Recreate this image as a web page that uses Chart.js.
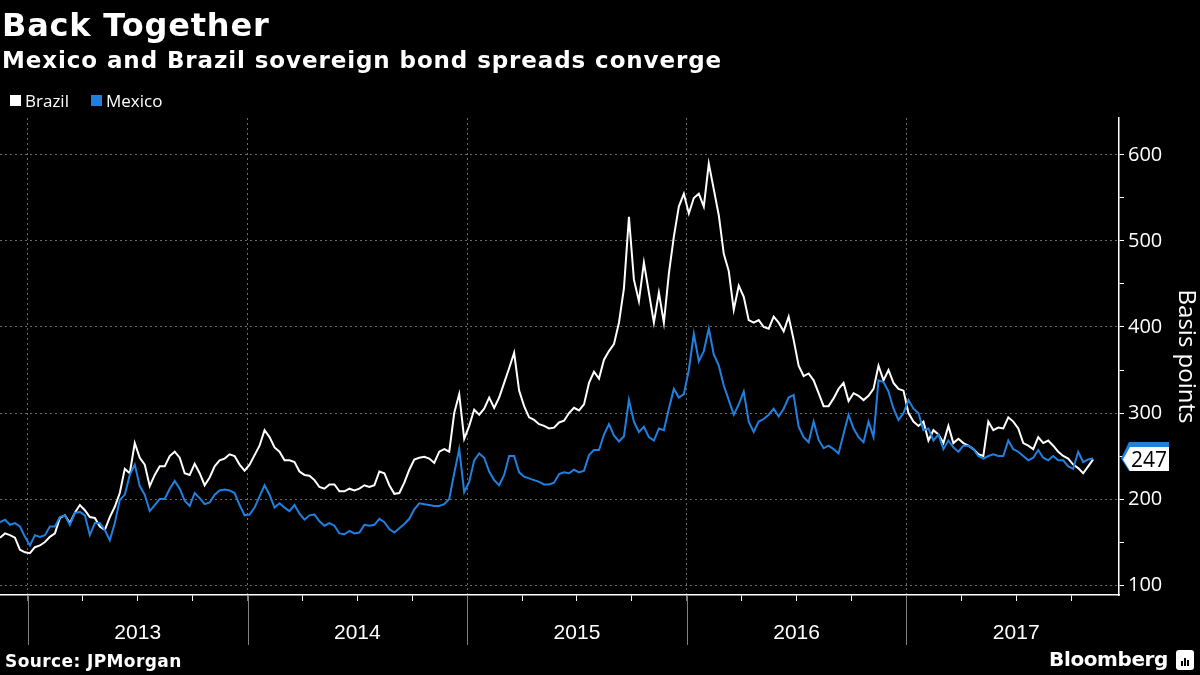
<!DOCTYPE html>
<html>
<head>
<meta charset="utf-8">
<script src="https://cdn.jsdelivr.net/npm/chart.js@4.4.1/dist/chart.umd.min.js"></script>
<style>
  html, body { margin: 0; padding: 0; background: #000; }
  #wrap { position: relative; width: 1200px; height: 675px; overflow: hidden; background: #000; }
  #chart { position: absolute; left: 0; top: 0; }
  .txt { position: absolute; color: #fff; white-space: nowrap; font-family: "DejaVu Sans", sans-serif; font-weight: bold; }
  #title { left: 2px; top: 9px; font-size: 32px; line-height: 32px; letter-spacing: 0.8px; }
  #subtitle { left: 2px; top: 49px; font-size: 23px; line-height: 23px; letter-spacing: 0.9px; }
  #source { left: 5px; top: 653px; font-size: 17px; line-height: 17px; letter-spacing: 0.4px; }
  #brand { right: 32px; top: 648px; font-size: 20px; line-height: 22px; letter-spacing: -0.4px; }
  #icon { position: absolute; left: 1176px; top: 650px; width: 18px; height: 20px; background: #fff; border-radius: 3px; }
  #icon span { position: absolute; bottom: 4px; width: 2px; background: #000; }
  .legend { position: absolute; top: 92px; color: #fff; font-family: "Open Sans", sans-serif; font-size: 17px; line-height: 17px; }
  .sw { position: absolute; width: 11px; height: 11px; top: 3px; }
</style>
</head>
<body>
<div id="wrap">
  <canvas id="chart" width="1200" height="675"></canvas>
  <div id="title" class="txt">Back Together</div>
  <div id="subtitle" class="txt">Mexico and Brazil sovereign bond spreads converge</div>
  <div class="legend" style="left:10px"><span class="sw" style="left:0;background:#fff"></span><span style="margin-left:15px">Brazil</span></div>
  <div class="legend" style="left:91px"><span class="sw" style="left:0;background:#1f80e0"></span><span style="margin-left:15px">Mexico</span></div>
  <div id="source" class="txt">Source: JPMorgan</div>
  <div id="brand" class="txt">Bloomberg</div>
  <div id="icon"><span style="left:5px;height:5px"></span><span style="left:8px;height:8px"></span><span style="left:11px;height:6px"></span></div>
</div>
<script>
// weekly-ish readings (about 8 days apart), Nov 2012 - Nov 2017, basis points
const startYear = 2012.873;
const stepYears = 1 / 44;

const brazil = [
  155, 160, 158, 155, 141, 138, 137, 144, 146, 150,
  156, 160, 178, 181, 172, 184, 193, 187, 179, 178,
  168, 164, 179, 191, 207, 235, 230, 265, 248, 240,
  215, 228, 238, 238, 250, 255, 248, 230, 228, 241,
  230, 216, 225, 238, 245, 247, 252, 250, 240, 233,
  240, 251, 262, 280, 272, 260, 255, 245, 245, 243,
  232, 228, 227, 222, 214, 212, 217, 217, 209, 209,
  212, 210, 212, 216, 214, 216, 232, 230, 216, 206,
  207, 219, 234, 246, 248, 249, 247, 242, 255, 258,
  255, 300, 322, 270, 285, 304, 298, 305, 318, 306,
  318, 335, 352, 370, 326, 308, 295, 292, 287, 285,
  282, 283, 289, 291, 300, 306, 303, 310, 335, 348,
  340, 362, 372, 380, 405, 445, 528, 455, 430, 475,
  440, 405, 440, 405, 462, 505, 540, 555, 532, 550,
  555, 540, 590, 560, 530, 485, 465, 420, 448, 435,
  408, 405, 408, 400, 398, 412, 405, 395, 412, 385,
  355, 343, 346, 338, 323, 308, 308, 317, 328, 335,
  314, 323, 320, 315, 320, 328, 355, 338, 350, 335,
  328, 326, 300, 290, 285, 290, 268, 280, 275, 265,
  285, 265, 270, 265, 262, 258, 252, 250, 290, 280,
  283, 282, 295, 290, 282, 265, 262, 258, 272, 265,
  268, 262, 255, 250, 247, 240, 236, 230, 238, 246
];

const mexico = [
  173, 176, 170, 172, 168, 156, 146, 158, 156, 158,
  168, 168, 179, 181, 170, 184, 185, 181, 158, 172,
  172, 164, 152, 172, 199, 205, 228, 240, 215, 205,
  186, 193, 200, 200, 212, 221, 212, 198, 192, 207,
  201, 194, 196, 205, 210, 211, 210, 207, 193, 181,
  182, 190, 203, 216, 205, 190, 195, 190, 186, 193,
  183, 176, 181, 182, 174, 169, 172, 169, 160, 159,
  163, 160, 161, 170, 169, 170, 177, 173, 165, 161,
  166, 171, 177, 188, 195, 194, 193, 192, 192, 194,
  200, 230, 258, 208, 220, 245, 253, 248, 232, 222,
  216, 228, 250, 250, 231, 226, 224, 222, 220, 217,
  217, 219, 229, 231, 230, 234, 231, 233, 251, 257,
  257, 275, 287, 274, 267, 273, 315, 290, 278, 284,
  272, 268, 282, 280, 305, 328, 318, 322, 350, 392,
  360, 372, 398, 368, 355, 332, 315, 298, 310, 325,
  290, 278, 290, 293, 298, 305, 296, 305, 318, 321,
  284, 272, 266, 290, 269, 259, 262, 258, 253, 276,
  298, 282, 272, 266, 290, 272, 338, 336, 325, 305,
  292, 300, 315, 305, 300, 280, 282, 268, 275, 258,
  268, 260, 255, 262, 262, 258, 250, 247, 250, 252,
  250, 250, 268, 258, 255, 250, 245, 248, 257, 248,
  245, 250, 245, 245, 238, 235, 255, 243, 246, 247
];

const years = [2013, 2014, 2015, 2016, 2017];
const quarterTicks = years.flatMap(y => [y, y + 0.25, y + 0.5, y + 0.75]);
const yTicks = [100, 150, 200, 250, 300, 350, 400, 450, 500, 550, 600];

const BLUE = '#1f80e0';
const GRID = '#6a6a6a';

const toPoints = arr => arr.map((v, i) => ({ x: startYear + i * stepYears, y: v }));

// long grey year separators below the x axis
const yearLines = {
  id: 'yearLines',
  afterDraw(chart) {
    const { ctx, chartArea, scales } = chart;
    ctx.save();
    ctx.strokeStyle = '#808080';
    ctx.lineWidth = 1;
    years.forEach(y => {
      const x = Math.round(scales.x.getPixelForValue(y)) + 0.5;
      ctx.beginPath();
      ctx.moveTo(x, chartArea.bottom);
      ctx.lineTo(x, chartArea.bottom + 50);
      ctx.stroke();
    });
    ctx.restore();
  }
};

// last value tag on the right axis
const lastTag = {
  id: 'lastTag',
  afterDraw(chart) {
    const { ctx, scales } = chart;
    const last = mexico[mexico.length - 1];
    const y = scales.y.getPixelForValue(last);
    const x0 = scales.y.left + 2;
    const w = 48, h = 25;
    ctx.save();
    ctx.fillStyle = BLUE;
    ctx.beginPath();
    ctx.moveTo(x0, y);
    ctx.lineTo(x0 + 8, y - h / 2 - 4);
    ctx.lineTo(x0 + w, y - h / 2 - 4);
    ctx.lineTo(x0 + w, y + h / 2);
    ctx.lineTo(x0 + 8, y + h / 2);
    ctx.closePath();
    ctx.fill();
    ctx.fillStyle = '#fff';
    ctx.beginPath();
    ctx.moveTo(x0 + 2, y + 1);
    ctx.lineTo(x0 + 9, y - h / 2 + 1);
    ctx.lineTo(x0 + w, y - h / 2 + 1);
    ctx.lineTo(x0 + w, y + h / 2);
    ctx.lineTo(x0 + 9, y + h / 2);
    ctx.closePath();
    ctx.fill();
    ctx.fillStyle = '#000';
    ctx.font = '21px "Open Sans", sans-serif';
    ctx.textAlign = 'center';
    ctx.textBaseline = 'middle';
    ctx.fillText(String(last), x0 + 28, y + 2);
    ctx.restore();
  }
};

new Chart(document.getElementById('chart'), {
  type: 'line',
  data: {
    datasets: [
      { label: 'Mexico', data: toPoints(mexico), borderColor: BLUE, borderWidth: 2, pointRadius: 0, tension: 0, order: 0 },
      { label: 'Brazil', data: toPoints(brazil), borderColor: '#ffffff', borderWidth: 2, pointRadius: 0, tension: 0, order: 1 }
    ]
  },
  options: {
    responsive: false,
    animation: false,
    layout: { padding: { top: 118, left: 0, right: 0, bottom: 0 } },
    plugins: { legend: { display: false }, tooltip: { enabled: false } },
    scales: {
      x: {
        type: 'linear',
        min: startYear,
        max: 2017.968,
        afterFit: s => { s.height = 80; },
        afterBuildTicks: s => { s.ticks = quarterTicks.map(v => ({ value: v })); },
        grid: {
          color: c => (c.tick && Number.isInteger(c.tick.value)) ? GRID : 'transparent',
          tickColor: c => (c.tick && Number.isInteger(c.tick.value)) ? '#808080' : '#ffffff',
          tickLength: 6,
          lineWidth: 1
        },
        border: { color: '#ffffff', width: 1.5, dash: [2, 3] },
        ticks: {
          color: '#ffffff',
          autoSkip: false,
          maxRotation: 0,
          padding: 20,
          font: { family: '"Liberation Sans", sans-serif', size: 21 },
          callback: v => (v % 1 === 0.5) ? String(Math.floor(v)) : ''
        }
      },
      y: {
        position: 'right',
        min: 88.4,
        max: 643,
        afterFit: s => { s.width = 81; },
        afterBuildTicks: s => { s.ticks = yTicks.map(v => ({ value: v })); },
        grid: {
          color: c => (c.tick && c.tick.value % 100 === 0) ? GRID : 'transparent',
          tickColor: '#ffffff',
          tickLength: 5,
          lineWidth: 1
        },
        border: { color: '#ffffff', width: 1.5, dash: [2, 3] },
        ticks: {
          color: '#ffffff',
          padding: 4,
          font: { family: '"Open Sans", sans-serif', size: 20 },
          callback: v => (v % 100 === 0) ? String(v) : ''
        },
        title: {
          display: true,
          text: 'Basis points',
          color: '#ffffff',
          font: { family: '"Open Sans", sans-serif', size: 24 },
          padding: { top: 0, bottom: 0 }
        }
      }
    }
  },
  plugins: [yearLines, lastTag]
});
</script>
</body>
</html>
